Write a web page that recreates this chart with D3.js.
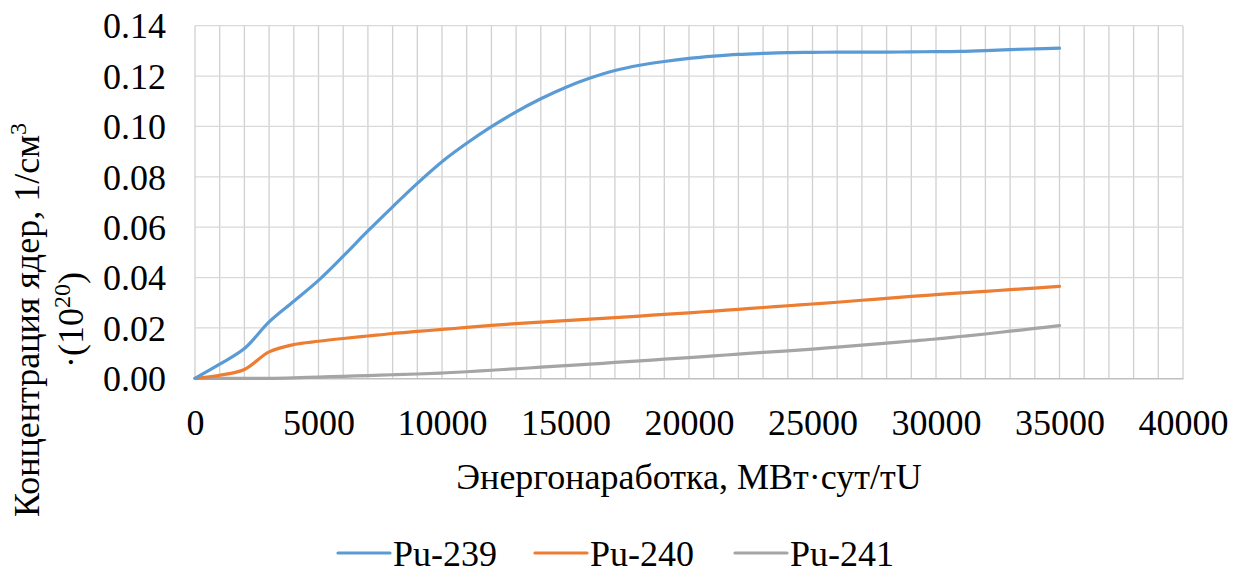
<!DOCTYPE html>
<html>
<head>
<meta charset="utf-8">
<script src="https://cdn.jsdelivr.net/npm/d3@7"></script>
<style>
  html, body { margin: 0; padding: 0; background: #fff; }
  svg { display: block; }
  svg text { font-family: "Liberation Serif", "Tinos", "Times New Roman", "DejaVu Serif", "Noto Serif", serif !important; fill: #000; }
</style>
</head>
<body>
<svg id="chart" width="1246" height="573"></svg>
<script>
// ---- data ----
const burnup = [0,1000,2000,3000,4000,5000,6000,7000,8000,9000,10000,11000,12000,13000,14000,15000,16000,17000,18000,19000,20000,21000,22000,23000,24000,25000,26000,27000,28000,29000,30000,31000,32000,33000,34000,35000];
const pu239 = [0,0.0056,0.0118,0.0224,0.0306,0.0389,0.0485,0.0585,0.0681,0.0774,0.0860,0.0933,0.0999,0.1058,0.1110,0.1155,0.1192,0.1222,0.1243,0.1258,0.1270,0.1279,0.1286,0.1290,0.1293,0.1294,0.1295,0.1295,0.1295,0.1296,0.1297,0.1298,0.1301,0.1305,0.1308,0.1311];
const pu240 = [0,0.0012,0.0035,0.0105,0.0134,0.0147,0.0158,0.0168,0.0178,0.0186,0.0194,0.0202,0.0210,0.0217,0.0223,0.0229,0.0235,0.0241,0.0247,0.0254,0.0260,0.0267,0.0274,0.0281,0.0288,0.0295,0.0302,0.0310,0.0317,0.0325,0.0332,0.0339,0.0345,0.0352,0.0358,0.0365];
const pu241 = [0,0,0,0,0.0002,0.0005,0.0008,0.0011,0.0014,0.0017,0.0021,0.0026,0.0032,0.0038,0.0044,0.0050,0.0056,0.0063,0.0069,0.0076,0.0082,0.0089,0.0096,0.0103,0.0109,0.0116,0.0124,0.0132,0.0140,0.0148,0.0156,0.0166,0.0176,0.0187,0.0198,0.0209];
const seriesNames = ["Pu-239","Pu-240","Pu-241"];
const seriesColors = ["#5b9bd5","#ed7d31","#a5a5a5"];
const xTicks = [0,5000,10000,15000,20000,25000,30000,35000,40000];
const yTicks = [0,0.02,0.04,0.06,0.08,0.10,0.12,0.14];
const xTitle = "Энергонаработка, МВт·сут/тU";

// ---- layout ----
const svg = d3.select("#chart");
const L = 195, R = 1183, T = 25.7, B = 378.3;
const x = d3.scaleLinear().domain([0,40000]).range([L,R]);
const y = d3.scaleLinear().domain([0,0.14]).range([B,T]);
const FF = '"Liberation Serif", "Tinos", "Times New Roman", "DejaVu Serif", serif';

// gridlines
const grid = svg.append("g");
grid.selectAll("line.v").data(d3.range(1000,40001,1000)).join("line")
  .attr("x1",d=>x(d)).attr("x2",d=>x(d)).attr("y1",T).attr("y2",B)
  .attr("stroke","#d0d0d0").attr("stroke-width",1.3);
grid.selectAll("line.h").data(yTicks.slice(1)).join("line")
  .attr("x1",L).attr("x2",R).attr("y1",d=>y(d)).attr("y2",d=>y(d))
  .attr("stroke","#d9d9d9").attr("stroke-width",1.3);
grid.append("line").attr("x1",L).attr("x2",L).attr("y1",T).attr("y2",B)
  .attr("stroke","#d0d0d0").attr("stroke-width",1.3);

// x axis
const xAxis = svg.append("g").attr("transform",`translate(0,${B})`)
  .call(d3.axisBottom(x).tickValues(xTicks).tickSize(0).tickPadding(0).tickFormat(d3.format("d")));
xAxis.attr("font-family",FF);
xAxis.select(".domain").attr("stroke","#bfbfbf").attr("stroke-width",1.5);
xAxis.selectAll("text").attr("font-size","36px")
  .attr("y",57).attr("dy",0).attr("fill","#000");

// y axis
const yAxis = svg.append("g").attr("transform",`translate(${L},0)`)
  .call(d3.axisLeft(y).tickValues(yTicks).tickSize(0).tickPadding(0).tickFormat(d3.format(".2f")));
yAxis.attr("font-family",FF);
yAxis.select(".domain").remove();
yAxis.selectAll("text").attr("font-size","36px")
  .attr("x",-29).attr("dy","0.34em").attr("fill","#000");

// series
const line = d3.line().x((d,i)=>x(burnup[i])).y(d=>y(d)).curve(d3.curveCatmullRom.alpha(0.5));
const allSeries = [pu239,pu240,pu241];
svg.append("g").selectAll("path").data([2,1,0]).join("path")
  .attr("d",i=>line(allSeries[i]))
  .attr("fill","none").attr("stroke",i=>seriesColors[i])
  .attr("stroke-width",3.2).attr("stroke-linecap","round").attr("stroke-linejoin","round");

// x title
svg.append("text").attr("x",(L+R)/2).attr("y",489).attr("text-anchor","middle")
  .attr("font-size","36px").text(xTitle);

// y title (two lines, rotated)
const yt = svg.append("g").attr("transform","translate(0,320) rotate(-90)");
const t1 = yt.append("text").attr("x",0).attr("y",39).attr("text-anchor","middle").attr("font-size","36px");
t1.append("tspan").text("Концентрация ядер, 1/см");
t1.append("tspan").attr("font-size","24px").attr("dy",-13).text("3");
const t2 = yt.append("text").attr("x",0).attr("y",83).attr("text-anchor","middle").attr("font-size","36px");
t2.append("tspan").text("·(10");
t2.append("tspan").attr("font-size","24px").attr("dy",-13).text("20");
t2.append("tspan").attr("dy",13).text(")");

// legend
const legendX = [338,535,735];
const lg = svg.append("g");
seriesNames.forEach((n,i)=>{
  lg.append("line").attr("x1",legendX[i]).attr("x2",legendX[i]+52).attr("y1",553).attr("y2",553)
    .attr("stroke",seriesColors[i]).attr("stroke-width",3.2).attr("stroke-linecap","round");
  lg.append("text").attr("x",legendX[i]+55).attr("y",566).attr("font-size","36px").text(n);
});
</script>
</body>
</html>
